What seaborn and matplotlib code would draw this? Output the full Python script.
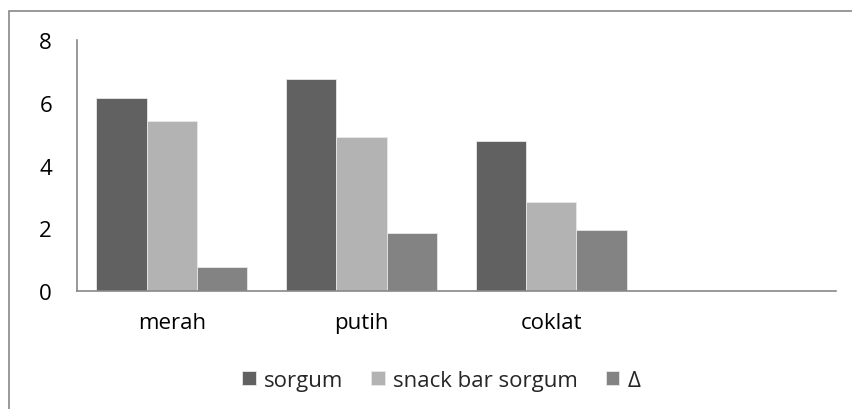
import matplotlib
matplotlib.use("Agg")
import matplotlib.pyplot as plt
import numpy as np
import pandas as pd
import seaborn as sns

# data
categories = ['merah', 'putih', 'coklat']
sorgum = [6.15, 6.75, 4.79]
snack_bar_sorgum = [5.41, 4.91, 2.83]
delta = [0.75, 1.85, 1.96]
series = ['sorgum', 'snack bar sorgum', 'Δ']

df = pd.DataFrame({
    'kategori': categories * 3,
    'nilai': sorgum + snack_bar_sorgum + delta,
    'seri': [series[0]] * 3 + [series[1]] * 3 + [series[2]] * 3,
})

sns.set_style("white")
plt.rcParams['font.family'] = ['Open Sans', 'DejaVu Sans']

pal = ['#616161', '#b3b3b3', '#838383']
fig = plt.figure(figsize=(8.53, 4.10), dpi=100)
ax = fig.add_axes([0.0903, 0.2878, 0.8897, 0.6122])

sns.barplot(data=df, x='kategori', y='nilai', hue='seri', order=categories + [''],
            hue_order=series, palette=pal, width=0.795, saturation=1,
            edgecolor='#e8e8e8', linewidth=0.6, ax=ax)

ax.set_xlim(-0.5, 3.5)
ax.set_ylim(0, 8)
ax.set_yticks([0, 2, 4, 6, 8])
ax.set_xlabel('')
ax.set_ylabel('')
for s in ['top', 'right']:
    ax.spines[s].set_visible(False)
for s in ['left', 'bottom']:
    ax.spines[s].set_color('#888888')
    ax.spines[s].set_linewidth(1.2)
ax.tick_params(axis='both', length=0, labelsize=16, colors='black')
ax.tick_params(axis='y', pad=18)
ax.tick_params(axis='x', pad=15)

ax.legend(loc='center', bbox_to_anchor=(0.5 - 0.02, -0.355), ncol=3, frameon=False,
          fontsize=16, handlelength=0.6, handleheight=0.6, handletextpad=0.38,
          columnspacing=1.25)

# outer chart border
fig.patches.append(plt.Rectangle((9 / 853, -0.05), 1.0, 1 - 11.5 / 410 + 0.05,
                                 transform=fig.transFigure, fill=False,
                                 edgecolor='#888888', linewidth=1.2))

plt.savefig('out.png', dpi=100)
